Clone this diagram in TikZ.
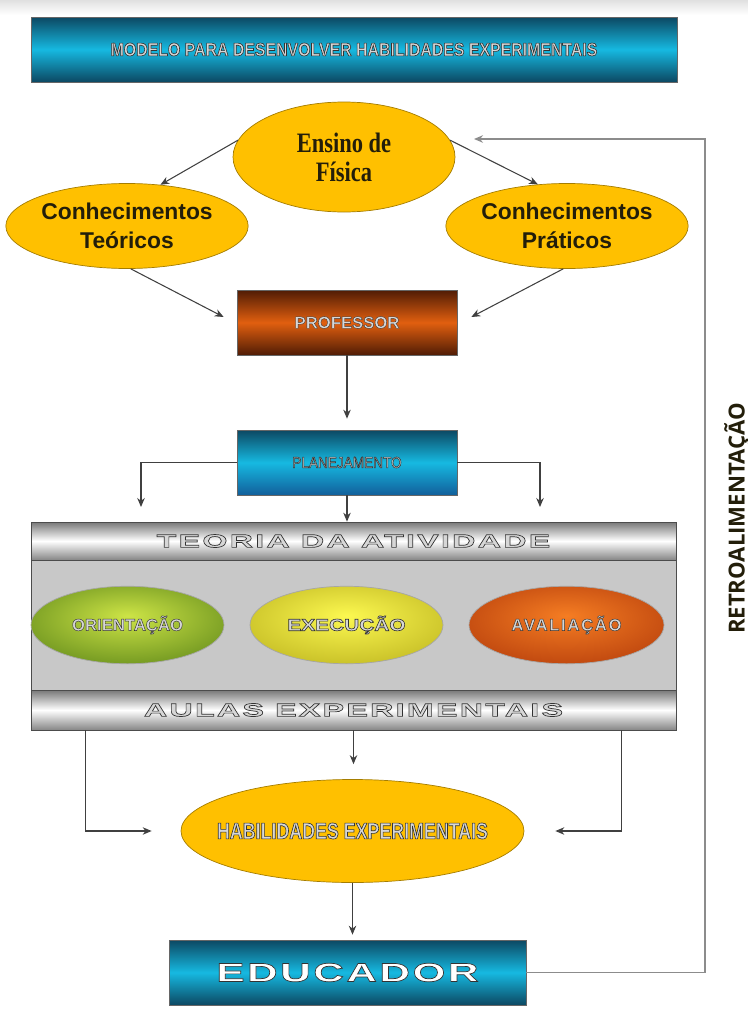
\documentclass[tikz,border=0pt]{standalone}
\usepackage{fontspec}
\setmainfont{Liberation Sans}
\newfontfamily\narrowfont[FakeStretch=0.86]{Liberation Sans}
\newfontfamily\tightfont[FakeStretch=0.78]{Liberation Sans}
\newfontfamily\widefont[FakeStretch=1.6,LetterSpace=10]{Liberation Sans}
\newfontfamily\bandfont[FakeStretch=1.75,LetterSpace=12]{Liberation Sans}
\newfontfamily\medwidefont[FakeStretch=1.25]{Liberation Sans}
\newfontfamily\spacedfont[LetterSpace=10]{Liberation Sans}
\newfontfamily\serifnarrow[FakeStretch=0.8]{Liberation Serif}
\newfontfamily\retrofont{Open Sans}
\usetikzlibrary{arrows.meta,positioning,shapes.geometric}

\definecolor{goldfill}{RGB}{255,192,0}
\definecolor{goldline}{RGB}{165,125,0}
\definecolor{tealdark}{RGB}{12,72,98}
\definecolor{tealmid}{RGB}{22,185,225}
\definecolor{planbot}{RGB}{18,95,155}
\definecolor{rustdark}{RGB}{80,28,5}
\definecolor{rustmid}{RGB}{225,95,15}
\definecolor{panelgray}{RGB}{200,200,200}
\definecolor{bandgray}{RGB}{120,120,120}
\definecolor{textgray}{RGB}{215,215,215}
\definecolor{inkdark}{RGB}{35,30,10}
\definecolor{grnin}{RGB}{205,228,70}
\definecolor{grnout}{RGB}{70,115,15}
\definecolor{ylwin}{RGB}{252,248,80}
\definecolor{ylwout}{RGB}{175,165,20}
\definecolor{orgin}{RGB}{245,125,35}
\definecolor{orgout}{RGB}{165,45,5}

% shadings for the three stages
\pgfdeclareradialshading{greenball}{\pgfpoint{0bp}{6bp}}{color(0bp)=(grnin); color(44bp)=(grnout); color(60bp)=(grnout)}
\pgfdeclareradialshading{yellowball}{\pgfpoint{0bp}{6bp}}{color(0bp)=(ylwin); color(44bp)=(ylwout); color(60bp)=(ylwout)}
\pgfdeclareradialshading{orangeball}{\pgfpoint{0bp}{6bp}}{color(0bp)=(orgin); color(44bp)=(orgout); color(60bp)=(orgout)}

% light letters with a dark rim
\newcommand\rimtext[3]{{\color{#1}\special{pdf:literal direct #2 w 0.2 G 2 Tr}#3\special{pdf:literal direct 0 Tr}}}

\begin{document}
\begin{tikzpicture}[
 font=\normalfont,
 box/.style={draw=black!60,minimum height=1.3cm,inner sep=2pt},
 cyanbox/.style={box,top color=tealdark,bottom color=tealdark,middle color=tealmid},
 planbox/.style={box,top color=tealdark,bottom color=planbot,middle color=tealmid},
 rustbox/.style={box,top color=rustdark,bottom color=rustdark,middle color=rustmid},
 band/.style={draw=black!70,minimum width=12.9cm,inner sep=0pt,top color=bandgray,bottom color=bandgray!90,middle color=white},
 gold/.style={ellipse,draw=goldline,fill=goldfill,inner sep=0pt,align=center,text=inkdark},
 stage/.style={ellipse,draw=black!35,inner sep=0pt,minimum width=3.86cm,minimum height=1.55cm},
 flow/.style={-{Stealth[length=1.8mm,width=1.5mm]},draw=black!75,line width=0.6pt},
 back/.style={-{Stealth[length=1.8mm,width=1.5mm]},draw=black!45,line width=0.9pt}
]
\useasboundingbox (0,0) rectangle (14.96,-20.32);
\shade[top color=black!12,bottom color=white] (0,0) rectangle (14.96,-0.3);

\node[cyanbox,minimum width=12.92cm] (title) at (7.08,-0.99) {\fontsize{10.5}{12}\narrowfont\bfseries\rimtext{textgray}{0.35}{MODELO PARA DESENVOLVER HABILIDADES EXPERIMENTAIS}};

\node[gold,minimum width=4.44cm,minimum height=2.2cm,font=\serifnarrow\bfseries\fontsize{16}{16.5}\selectfont] (ensino) at (6.88,-3.14) {Ensino de\\Física};
\node[gold,minimum width=4.42cm,minimum height=1.7cm,font=\bfseries\fontsize{13}{16.5}\selectfont] (teo) at (2.54,-4.52) {Conhecimentos\\Teóricos};
\node[gold,minimum width=4.38cm,minimum height=1.7cm,font=\bfseries\fontsize{13}{16.5}\selectfont] (prat) at (11.34,-4.52) {Conhecimentos\\Práticos};

\node[rustbox,minimum width=4.4cm] (prof) at (6.94,-6.45) {\fontsize{9.5}{11}\bfseries\rimtext{textgray}{0.2}{PROFESSOR}};
\node[planbox,minimum width=4.4cm] (plan) at (6.94,-9.25) {\fontsize{9}{11}\narrowfont\rimtext{textgray}{0.3}{PLANEJAMENTO}};

% activity panel
\node[draw=black!70,fill=panelgray,minimum width=12.9cm,minimum height=4.16cm] (panel) at (7.07,-12.52) {};
\node[band,minimum height=0.76cm] (teoria) at (7.07,-10.82) {\fontsize{10.5}{11}\bandfont\bfseries\rimtext{textgray}{0.4}{TEORIA DA ATIVIDADE}};
\node[band,minimum height=0.8cm] (aulas) at (7.07,-14.2) {\fontsize{10.5}{11}\bandfont\bfseries\rimtext{textgray}{0.4}{AULAS EXPERIMENTAIS}};
\node[stage,shading=greenball] (orient) at (2.55,-12.5) {\fontsize{9.5}{11}\bfseries\rimtext{textgray}{0.25}{ORIENTAÇÃO}};
\node[stage,shading=yellowball] (exec) at (6.93,-12.5) {\fontsize{9.5}{11}\medwidefont\bfseries\rimtext{textgray}{0.35}{EXECUÇÃO}};
\node[stage,shading=orangeball,minimum width=3.9cm] (aval) at (11.33,-12.5) {\fontsize{9.5}{11}\spacedfont\bfseries\rimtext{textgray}{0.25}{AVALIAÇÃO}};

\node[gold,minimum width=6.86cm,minimum height=2.06cm,inner xsep=-1.5cm] (habil) at (7.05,-16.62) {\fontsize{13}{14}\tightfont\bfseries\rimtext{textgray}{0.35}{HABILIDADES EXPERIMENTAIS}};
\node[cyanbox,minimum width=7.14cm] (educ) at (6.95,-19.45) {\fontsize{15}{16}\widefont\bfseries\rimtext{white}{0.4}{EDUCADOR}};

\node[rotate=90,text=inkdark,font=\retrofont\bfseries\fontsize{12.6}{14}\selectfont] (retro) at (14.74,-10.37) {RETROALIMENTAÇÃO};

\coordinate (pl) at (2.82,-10.14);
\coordinate (pr) at (10.8,-10.14);
\coordinate (fbtop) at (14.1,-2.78);
\coordinate (fbend) at (9.48,-2.78);

\draw[flow] (ensino.171) -- (teo.51);
\draw[flow] (ensino.9) -- (prat.125);
\draw[flow] (teo.-85) -- ([xshift=-0.26cm,yshift=0.11cm]prof.west);
\draw[flow] (prat.-95) -- ([xshift=0.28cm,yshift=0.11cm]prof.east);
\draw[flow,shorten >=0.22cm] (prof) -- (plan);
\draw[flow] (plan.west) -| (pl);
\draw[flow] (plan.east) -| (pr);
\draw[flow] (plan.south) -- (plan.south |- teoria.north);
\draw[flow,shorten >=0.3cm] (aulas.south) -- (aulas.south |- habil.north);
\draw[flow] ([xshift=1.1cm]aulas.south west) |- ([xshift=-0.58cm]habil.west);
\draw[flow] ([xshift=-1.1cm]aulas.south east) |- ([xshift=0.62cm]habil.east);
\draw[flow,shorten >=0.1cm] (habil.south) -- (habil.south |- educ.north);
\draw[back] (educ.east) -| (fbtop) -- (fbend);
\end{tikzpicture}
\end{document}
